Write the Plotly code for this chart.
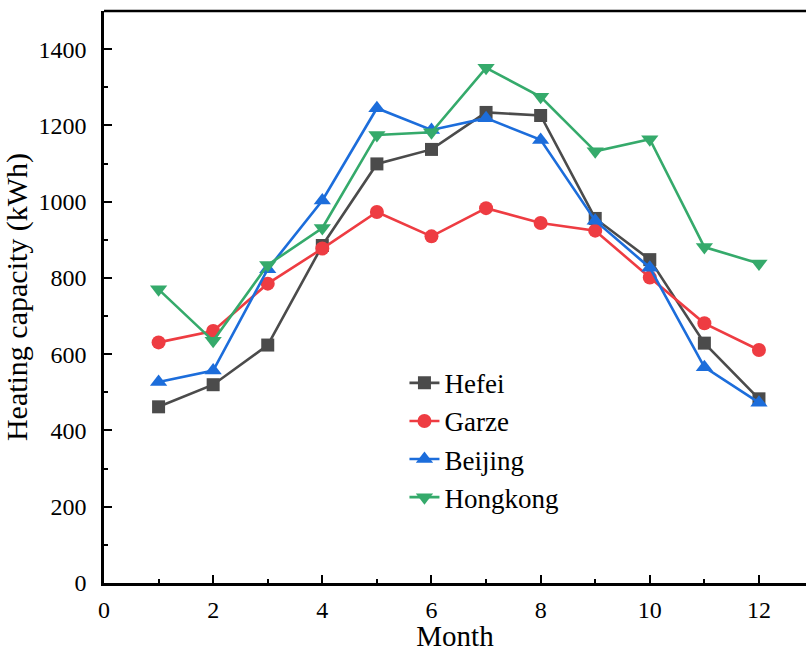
import plotly.graph_objects as go

months = list(range(1, 13))
hefei = [462, 520, 624, 885, 1099, 1137, 1234, 1226, 956, 848, 629, 483]
garze = [631, 661, 785, 877, 973, 909, 983, 944, 924, 801, 681, 611]
beijing = [527, 557, 823, 1003, 1245, 1188, 1219, 1162, 950, 827, 566, 473]
hongkong = [770, 635, 834, 931, 1175, 1182, 1351, 1275, 1132, 1164, 881, 838]

series = [
    ("Hefei", hefei, "#4b4b4b", "square", 13),
    ("Garze", garze, "#ee3c42", "circle", 14),
    ("Beijing", beijing, "#1c6ddb", "triangle-up", 15),
    ("Hongkong", hongkong, "#35aa6b", "triangle-down", 15),
]

FONT = "Liberation Serif"

fig = go.Figure()
for name, vals, color, sym, msize in series:
    fig.add_trace(go.Scatter(
        x=months, y=vals, name=name, mode="lines+markers",
        line=dict(color=color, width=2.6),
        marker=dict(symbol=sym, size=msize, color=color),
    ))

W, H = 806, 652
ml, mr, mt, mb = 104, 0, 11, 67
px_per_month = 54.58
xmax = (W - ml - mr) / px_per_month

axis_common = dict(
    showline=True, linecolor="black", linewidth=2.5,
    ticks="inside", tickcolor="black", tickwidth=1.8, ticklen=8,
    showgrid=False, zeroline=False,
    tickfont=dict(family=FONT, size=24, color="black"),
)

fig.update_layout(
    width=W, height=H,
    margin=dict(l=ml, r=mr, t=mt, b=mb),
    paper_bgcolor="white", plot_bgcolor="white",
    font=dict(family=FONT, color="black"),
    showlegend=True,
    legend=dict(
        x=0.428, y=0.392, xanchor="left", yanchor="top",
        font=dict(family=FONT, size=27, color="black"),
        bgcolor="rgba(0,0,0,0)", tracegroupgap=0, itemwidth=30,
    ),
    xaxis=dict(
        range=[0, xmax], tickmode="array", tickvals=[0, 2, 4, 6, 8, 10, 12],
        minor=dict(tickvals=[1, 3, 5, 7, 9, 11], ticks="inside", ticklen=4,
                   tickcolor="black", tickwidth=1.8),
        ticklabelstandoff=3,
        title=dict(text="Month", font=dict(family=FONT, size=29), standoff=9),
        **axis_common,
    ),
    yaxis=dict(
        range=[0, 1500], tickmode="array", tickvals=list(range(0, 1401, 200)),
        minor=dict(tickvals=list(range(100, 1500, 200)), ticks="inside", ticklen=4,
                   tickcolor="black", tickwidth=1.8),
        ticklabelstandoff=10,
        title=dict(text="Heating capacity (kWh)", font=dict(family=FONT, size=30), standoff=4),
        **axis_common,
    ),
)

# top border of the plotting area
fig.add_shape(type="line", xref="paper", yref="paper", x0=0, x1=1, y0=1, y1=1,
              line=dict(color="black", width=2.5))

fig.write_html("out.html")
